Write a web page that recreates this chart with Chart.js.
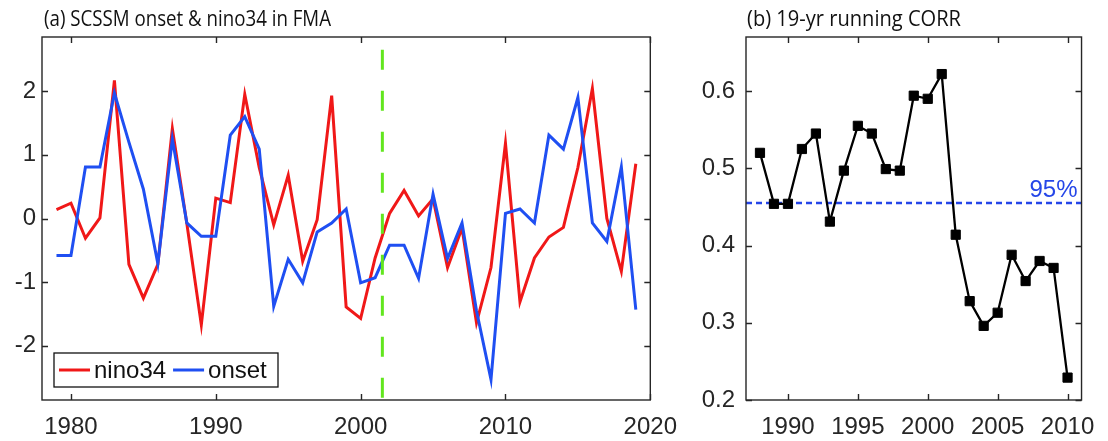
<!DOCTYPE html>
<html>
<head>
    <title>SCSSM onset & nino34 in FMA</title>
    <script src="https://cdn.jsdelivr.net/npm/chart.js"></script>
    <style>
        body { margin: 0; background: #fff; }
        #wrap { position: relative; width: 1108px; height: 441px; }
        canvas { position: absolute; top: 0; }
    </style>
</head>
<body>
<div id="wrap">
    <canvas id="chartA" width="690" height="441" style="left:0"></canvas>
    <canvas id="chartB" width="418" height="441" style="left:690px"></canvas>
</div>
<script>
// panel (a) data
const years = [1979, 1980, 1981, 1982, 1983, 1984, 1985, 1986, 1987, 1988,
               1989, 1990, 1991, 1992, 1993, 1994, 1995, 1996, 1997, 1998,
               1999, 2000, 2001, 2002, 2003, 2004, 2005, 2006, 2007, 2008,
               2009, 2010, 2011, 2012, 2013, 2014, 2015, 2016, 2017, 2018, 2019];
const nino34 = [0.14, 0.24, -0.31, 0.01, 2.17, -0.72, -1.25, -0.72, 1.41, -0.08,
                -1.67, 0.32, 0.25, 1.95, 0.8, -0.1, 0.68, -0.67, -0.02, 1.93,
                -1.39, -1.57, -0.62, 0.08, 0.44, 0.04, 0.31, -0.77, -0.15, -1.64,
                -0.77, 1.18, -1.31, -0.62, -0.29, -0.14, 0.8, 2.04, 0.0, -0.83, 0.86];
const onset = [-0.58, -0.58, 0.81, 0.81, 1.97, 1.2, 0.46, -0.71, 1.25, -0.07,
               -0.28, -0.28, 1.31, 1.6, 1.09, -1.38, -0.64, -1.01, -0.21, -0.07,
               0.15, -1.01, -0.93, -0.42, -0.42, -0.94, 0.38, -0.63, -0.07, -1.45,
               -2.53, 0.08, 0.15, -0.07, 1.31, 1.09, 1.9, -0.07, -0.36, 0.81, -1.43];
const shiftYear = 2001.5;
const shiftSpan = [2.65, -2.9];
const xTicksA = [1980, 1990, 2000, 2010, 2020];
const yTicksA = [-2, -1, 0, 1, 2];

// panel (b) data
const corrYears = [1988, 1989, 1990, 1991, 1992, 1993, 1994, 1995, 1996, 1997, 1998,
                   1999, 2000, 2001, 2002, 2003, 2004, 2005, 2006, 2007, 2008, 2009, 2010];
const runCorr = [0.520, 0.454, 0.454, 0.525, 0.545, 0.431, 0.497, 0.555, 0.545, 0.499, 0.497,
                 0.594, 0.590, 0.622, 0.414, 0.328, 0.296, 0.313, 0.388, 0.354, 0.380, 0.371, 0.229];
const sig95 = 0.455;
const xTicksB = [1990, 1995, 2000, 2005, 2010];
const yTicksB = [0.2, 0.3, 0.4, 0.5, 0.6];

const tickFont = { family: 'Liberation Sans, Arial, sans-serif', size: 24 };
const ink = '#262626';

// box round the plot with inward ticks on all four sides, plus panel title
const boxPlugin = {
    id: 'box',
    afterDraw(chart, args, opts) {
        const { ctx, chartArea: a, scales: { x, y } } = chart;
        ctx.save();
        ctx.strokeStyle = ink;
        ctx.lineWidth = 1.4;
        ctx.strokeRect(a.left, a.top, a.right - a.left, a.bottom - a.top);
        ctx.beginPath();
        x.ticks.forEach(t => {
            const px = Math.round(x.getPixelForValue(t.value)) + 0.5;
            ctx.moveTo(px, a.bottom); ctx.lineTo(px, a.bottom - 6);
            ctx.moveTo(px, a.top); ctx.lineTo(px, a.top + 6);
        });
        y.ticks.forEach(t => {
            const py = Math.round(y.getPixelForValue(t.value)) + 0.5;
            ctx.moveTo(a.left, py); ctx.lineTo(a.left + 6, py);
            ctx.moveTo(a.right, py); ctx.lineTo(a.right - 6, py);
        });
        ctx.stroke();
        // title, squeezed to the narrow width of the original face
        ctx.fillStyle = '#111';
        ctx.font = '22px "Open Sans", sans-serif';
        ctx.textAlign = 'left';
        ctx.textBaseline = 'alphabetic';
        const w = ctx.measureText(opts.text).width;
        ctx.translate(a.left + opts.dx, 26);
        ctx.scale(opts.width / w, 1);
        ctx.fillText(opts.text, 0, 0);
        ctx.restore();
    }
};

// legend box in the lower left corner of panel (a)
const legendPlugin = {
    id: 'boxLegend',
    afterDraw(chart) {
        const { ctx, chartArea: a } = chart;
        const items = chart.data.datasets.filter(d => d.label);
        ctx.save();
        ctx.fillStyle = '#fff';
        ctx.strokeStyle = '#111';
        ctx.lineWidth = 1.3;
        const bx = a.left + 12, by = a.bottom - 47;
        ctx.fillRect(bx, by, 224, 34);
        ctx.strokeRect(bx, by, 224, 34);
        ctx.font = '24px "Liberation Sans", Arial, sans-serif';
        ctx.textBaseline = 'alphabetic';
        let cx = bx + 5;
        items.forEach(d => {
            ctx.strokeStyle = d.borderColor;
            ctx.lineWidth = 3;
            ctx.beginPath();
            ctx.moveTo(cx, by + 17); ctx.lineTo(cx + 31, by + 17);
            ctx.stroke();
            ctx.fillStyle = '#111';
            ctx.fillText(d.label, cx + 35, by + 25);
            cx += 35 + ctx.measureText(d.label).width + 7;
        });
        ctx.restore();
    }
};

// "95%" label over the significance line
const sigLabel = {
    id: 'sigLabel',
    afterDatasetsDraw(chart) {
        const { ctx, chartArea: a, scales: { y } } = chart;
        ctx.save();
        ctx.fillStyle = '#2546e8';
        ctx.font = '24px "Liberation Sans", Arial, sans-serif';
        ctx.textAlign = 'right';
        ctx.textBaseline = 'alphabetic';
        ctx.fillText('95%', a.right - 4, y.getPixelForValue(sig95) - 6);
        ctx.restore();
    }
};

function axes(xMin, xMax, xTicks, yMin, yMax, yTicks, yWidth, yPad, yFmt) {
    return {
        x: {
            type: 'linear', min: xMin, max: xMax,
            grid: { display: false, drawTicks: false }, border: { display: false },
            afterBuildTicks: s => { s.ticks = xTicks.map(v => ({ value: v })); },
            afterFit: s => { s.height = 41; },
            ticks: { font: tickFont, color: ink, padding: 13, maxRotation: 0, autoSkip: false,
                     callback: v => String(v) }
        },
        y: {
            min: yMin, max: yMax,
            grid: { display: false, drawTicks: false }, border: { display: false },
            afterBuildTicks: s => { s.ticks = yTicks.map(v => ({ value: v })); },
            afterFit: s => { s.width = yWidth; },
            ticks: { font: tickFont, color: ink, padding: yPad, callback: yFmt }
        }
    };
}

Chart.defaults.animation = false;

new Chart(document.getElementById('chartA'), {
    type: 'line',
    data: {
        datasets: [
            {
                data: shiftSpan.map(v => ({ x: shiftYear, y: v })),
                borderColor: '#62e61e', borderWidth: 3, borderDash: [20, 21],
                pointRadius: 0, order: 0
            },
            {
                label: 'nino34',
                data: years.map((yr, i) => ({ x: yr, y: nino34[i] })),
                borderColor: '#f01818', borderWidth: 3, pointRadius: 0, order: 2
            },
            {
                label: 'onset',
                data: years.map((yr, i) => ({ x: yr, y: onset[i] })),
                borderColor: '#1f4ff2', borderWidth: 3, pointRadius: 0, order: 1
            }
        ]
    },
    options: {
        responsive: false,
        devicePixelRatio: 1,
        layout: { padding: { top: 37, right: 33, left: 0, bottom: 0 } },
        scales: axes(1978, 2020, xTicksA, -2.85, 2.85, yTicksA, 42, 6, v => String(v)),
        plugins: {
            legend: { display: false },
            tooltip: { enabled: false },
            box: { text: '(a) SCSSM onset & nino34 in FMA', dx: 2, width: 287 }
        }
    },
    plugins: [boxPlugin, legendPlugin]
});

new Chart(document.getElementById('chartB'), {
    type: 'line',
    data: {
        datasets: [
            {
                data: [1987, 2011].map(yr => ({ x: yr, y: sig95 })),
                borderColor: '#2546e8', borderWidth: 2.5, borderDash: [6, 4],
                pointRadius: 0, order: 1
            },
            {
                data: corrYears.map((yr, i) => ({ x: yr, y: runCorr[i] })),
                borderColor: '#000', borderWidth: 2.3,
                pointStyle: 'rect', pointRadius: 6.5,
                pointBackgroundColor: '#000', pointBorderColor: '#000', pointBorderWidth: 1,
                order: 0
            }
        ]
    },
    options: {
        responsive: false,
        devicePixelRatio: 1,
        layout: { padding: { top: 37, right: 18, left: 0, bottom: 0 } },
        scales: axes(1987, 2011, xTicksB, 0.2, 0.67, yTicksB, 56, 11, v => v.toFixed(1)),
        plugins: {
            legend: { display: false },
            tooltip: { enabled: false },
            box: { text: '(b) 19-yr running CORR', dx: 1, width: 214 }
        }
    },
    plugins: [boxPlugin, sigLabel]
});
</script>
</body>
</html>
